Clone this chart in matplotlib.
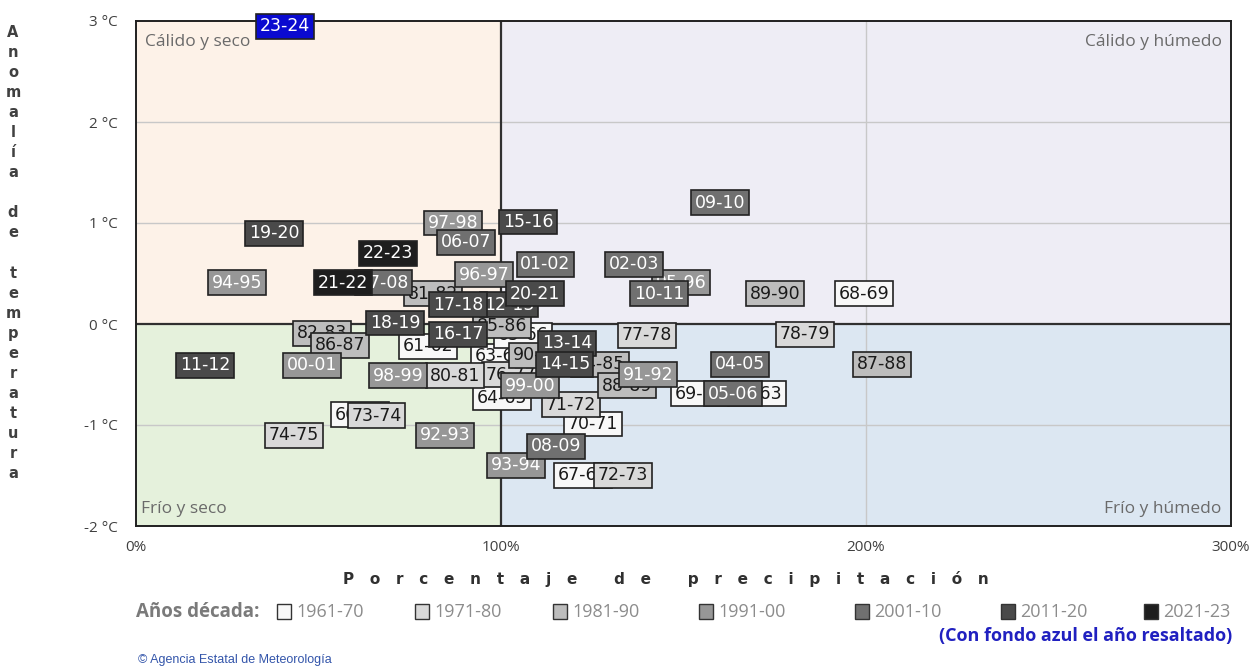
import matplotlib
matplotlib.use("Agg")
import matplotlib.pyplot as plt
from matplotlib.patches import Rectangle

# ---------------- data ----------------
seasons = ["61-62","62-63","63-64","64-65","65-66","66-67","67-68","68-69","69-70","70-71",
           "71-72","72-73","73-74","74-75","76-77","77-78","78-79","80-81",
           "81-82","82-83","84-85","85-86","86-87","87-88","88-89","89-90","90-91",
           "91-92","92-93","93-94","94-95","95-96","96-97","97-98","98-99","99-00","00-01",
           "01-02","02-03","04-05","05-06","06-07","07-08","08-09","09-10","10-11",
           "11-12","12-13","13-14","14-15","15-16","16-17","17-18","18-19","19-20","20-21",
           "21-22","22-23","23-24"]
precip = [80.0, 170.1, 99.7, 100.3, 106.0, 61.4, 122.5, 199.5, 154.5, 125.2,
          119.2, 133.4, 66.0, 43.3, 102.7, 140.0, 183.3, 87.4,
          81.4, 51.0, 127.1, 100.3, 55.9, 204.4, 134.5, 175.1, 110.1,
          140.3, 84.7, 104.1, 27.7, 149.3, 95.3, 86.8, 71.8, 107.9, 48.2,
          112.1, 136.4, 165.5, 163.6, 90.4, 67.9, 115.1, 160.0, 143.3,
          18.9, 102.2, 118.1, 117.5, 107.4, 88.2, 88.2, 71.0, 37.8, 109.3,
          56.7, 69.0, 40.8]
anomaly = [-0.22, -0.69, -0.32, -0.73, -0.11, -0.90, -1.50, 0.30, -0.69, -0.99,
           -0.80, -1.50, -0.91, -1.10, -0.50, -0.11, -0.10, -0.51,
           0.30, -0.09, -0.40, -0.02, -0.21, -0.40, -0.61, 0.30, -0.31,
           -0.50, -1.10, -1.40, 0.41, 0.41, 0.49, 1.00, -0.51, -0.61, -0.41,
           0.59, 0.59, -0.40, -0.69, 0.81, 0.41, -1.21, 1.20, 0.30,
           -0.41, 0.19, -0.19, -0.40, 1.01, -0.10, 0.19, 0.01, 0.90, 0.30,
           0.41, 0.70, 2.95]
highlight = "23-24"

decade_names = ["1961-70", "1971-80", "1981-90", "1991-00", "2001-10", "2011-20", "2021-23"]
decade_fill = ["#f8f8f8", "#d9d9d9", "#bdbdbd", "#979797", "#707070", "#4a4a4a", "#1e1e1e"]
decade_text = ["#1a1a1a", "#1a1a1a", "#1a1a1a", "#ffffff", "#ffffff", "#ffffff", "#ffffff"]

x_ticks = [0, 100, 200, 300]
x_ticklabels = ["0%", "100%", "200%", "300%"]
y_ticks = [-2, -1, 0, 1, 2, 3]
y_ticklabels = ["-2 °C", "-1 °C", "0 °C", "1 °C", "2 °C", "3 °C"]

quadrants = [("Cálido y seco", 0, 100, 0, 3, "#fdf2e8"),
             ("Cálido y húmedo", 100, 300, 0, 3, "#eeedf5"),
             ("Frío y seco", 0, 100, -2, 0, "#e5f1dc"),
             ("Frío y húmedo", 100, 300, -2, 0, "#dce7f2")]


def decade_index(season):
    start = int(season[:2])
    year = 1900 + start if start >= 50 else 2000 + start
    if year <= 1970:
        return 0
    return min((year - 1971) // 10 + 1, 6)


# ---------------- figure ----------------
W, H = 1256, 667
fig = plt.figure(figsize=(W / 100, H / 100), dpi=100)
fig.patch.set_facecolor("white")
ax = fig.add_axes([136 / W, 1 - 526 / H, (1231 - 136) / W, (526 - 21) / H])
ax.set_xlim(0, 300)
ax.set_ylim(-2, 3)

for name, x0, x1, y0, y1, col in quadrants:
    ax.add_patch(Rectangle((x0, y0), x1 - x0, y1 - y0, facecolor=col, edgecolor="none", zorder=0))

# grid
for yv in [1, 2, -1]:
    ax.axhline(yv, color="#c8c8c8", lw=1.0, zorder=1)
ax.axvline(200, color="#c8c8c8", lw=1.0, zorder=1)
ax.axhline(0, color="#303030", lw=1.6, zorder=2)
ax.axvline(100, color="#303030", lw=1.6, zorder=2)

for sp in ax.spines.values():
    sp.set_color("#202020")
    sp.set_linewidth(1.4)
    sp.set_zorder(5)

ax.set_xticks(x_ticks)
ax.set_xticklabels(x_ticklabels)
ax.set_yticks(y_ticks)
ax.set_yticklabels(y_ticklabels)
ax.tick_params(length=0, labelsize=11, colors="#404040")
ax.tick_params(axis="y", pad=13)
ax.tick_params(axis="x", pad=10)
for lab in ax.get_xticklabels() + ax.get_yticklabels():
    lab.set_family("Open Sans")

# quadrant labels
qfont = dict(family="Open Sans", fontsize=12.5, color="#6a6a6a", zorder=3)
ax.text(2.5, 2.79, "Cálido y seco", ha="left", va="center", **qfont)
ax.text(297.5, 2.79, "Cálido y húmedo", ha="right", va="center", **qfont)
ax.text(1.5, -1.83, "Frío y seco", ha="left", va="center", **qfont)
ax.text(297.5, -1.83, "Frío y húmedo", ha="right", va="center", **qfont)

# data labels (chronological order, later on top)
for i, (s, px, ty) in enumerate(zip(seasons, precip, anomaly)):
    d = decade_index(s)
    fc, tc = decade_fill[d], decade_text[d]
    if s == highlight:
        fc, tc = "#0a0ad0", "#ffffff"
    ax.text(px, ty, s, ha="center", va="center", fontsize=12.5, color=tc,
            family="DejaVu Sans", zorder=10 + i, clip_on=False,
            bbox=dict(boxstyle="square,pad=0.2", facecolor=fc, edgecolor="#222222", linewidth=1.2))

# axis titles
ylabel = "\n".join(list("Anomalía")) + "\n\n" + "\n".join(list("de")) + "\n\n" + "\n".join(list("temperatura"))
fig.text(13 / W, 1 - 253 / H, ylabel, ha="center", va="center", fontsize=10.5, fontweight="bold",
         color="#404040", family="DejaVu Sans", linespacing=1.42)

xlabel = "   ".join(list("Porcentaje")) + "       " + "   ".join(list("de")) + "       " + "   ".join(list("precipitación"))
fig.text(666 / W, 1 - 579 / H, xlabel, ha="center", va="center", fontsize=11, fontweight="bold",
         color="#303030", family="DejaVu Sans")

# legend
ly = 1 - 612 / H
fig.text(136 / W, ly, "Años década:", ha="left", va="center", fontsize=13.5, fontweight="bold",
         color="#7a7a7a", family="Open Sans")
sq_x = [277, 415, 553, 699, 855, 1001, 1144]
for k, name in enumerate(decade_names):
    fig.patches.append(Rectangle((sq_x[k] / W, 1 - 619 / H), 14 / W, 15 / H, transform=fig.transFigure,
                                 facecolor=decade_fill[k], edgecolor="#333333", linewidth=1.0))
    fig.text((sq_x[k] + 19) / W, ly, name, ha="left", va="center", fontsize=13,
             color="#8c8c8c", family="Open Sans")

fig.text(1232 / W, 1 - 636 / H, "(Con fondo azul el año resaltado)", ha="right", va="center",
         fontsize=13, fontweight="bold", color="#2020c0", family="Open Sans")
fig.text(138 / W, 1 - 660 / H, "© Agencia Estatal de Meteorología", ha="left", va="center",
         fontsize=9, color="#3355aa", family="Liberation Sans")

fig.savefig("out.png", dpi=100)
